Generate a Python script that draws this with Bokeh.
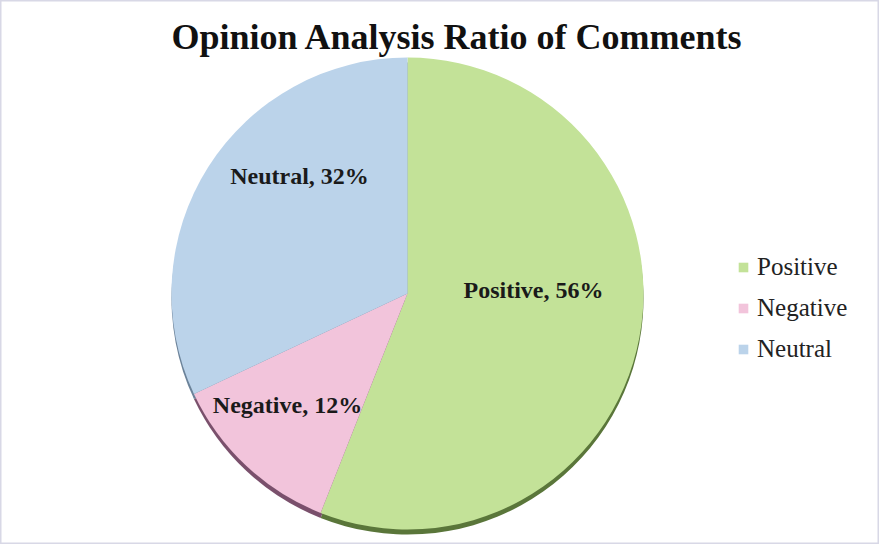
import math
from bokeh.plotting import figure
from bokeh.models import ColumnDataSource, Range1d, Legend, LegendItem, Label
from bokeh.core.properties import value
from bokeh.embed import file_html
from bokeh.resources import INLINE

# ---- data ----
categories = ["Positive", "Negative", "Neutral"]
percentages = [56, 12, 32]
colors = ["#C3E298", "#F2C4DB", "#BBD3EA"]
shadow_colors = ["#5A763A", "#7A506C", "#6B8299"]
title_text = "Opinion Analysis Ratio of Comments"

W, H = 879, 544
p = figure(width=W, height=H, output_backend="svg", toolbar_location=None,
           x_range=Range1d(0, W), y_range=Range1d(0, H), min_border=0,
           background_fill_color="white", border_fill_color="white")
p.axis.visible = False
p.grid.visible = False
p.outline_line_color = "#D8D8E6"
p.outline_line_width = 2

# pie geometry (positions)
cx, cy, r = 407, 251, 236

total = sum(percentages)
starts, ends = [], []
acc = 0.0
for v in percentages:
    a0 = math.pi / 2 - 2 * math.pi * acc / total
    acc += v
    a1 = math.pi / 2 - 2 * math.pi * acc / total
    starts.append(a0)
    ends.append(a1)

src = ColumnDataSource(dict(cat=categories, pct=percentages, color=colors,
                            shadow=shadow_colors, start=starts, end=ends,
                            label=[f"{c}, {v}%" for c, v in zip(categories, percentages)]))

# shadow (3D rim)
p.wedge(x=cx, y=cy - 5, radius=r, start_angle="start", end_angle="end",
        direction="clock", fill_color="shadow", line_color=None, source=src)
wr = p.wedge(x=cx, y=cy, radius=r, start_angle="start", end_angle="end",
             direction="clock", fill_color="color", line_color=None, source=src)

# slice labels
lab_x = [533, 287, 299]
lab_y = [255, 140, 369]
lsrc = ColumnDataSource(dict(x=lab_x, y=lab_y, t=src.data["label"]))
p.text(x="x", y="y", text="t", source=lsrc, text_align="center",
       text_baseline="middle", text_font=value("Liberation Serif"),
       text_font_style="bold", text_font_size="24px", text_color="#1a1a1a")

# title
p.add_layout(Label(x=457, y=508, text=title_text, text_align="center",
                   text_baseline="alphabetic", text_font="Liberation Serif",
                   text_font_style="bold", text_font_size="36px",
                   text_color="#111111"))

# legend
items = [LegendItem(label=c, renderers=[wr], index=i) for i, c in enumerate(categories)]
leg = Legend(items=items, location=(737, 181), orientation="vertical",
             label_text_font="Liberation Serif", label_text_font_size="25px",
             label_text_color="#222222", glyph_width=12, glyph_height=12,
             label_standoff=8, spacing=13, padding=0, margin=0,
             border_line_color=None, background_fill_alpha=0)
p.add_layout(leg, "center")

open("out.html", "w").write(file_html(p, INLINE))
